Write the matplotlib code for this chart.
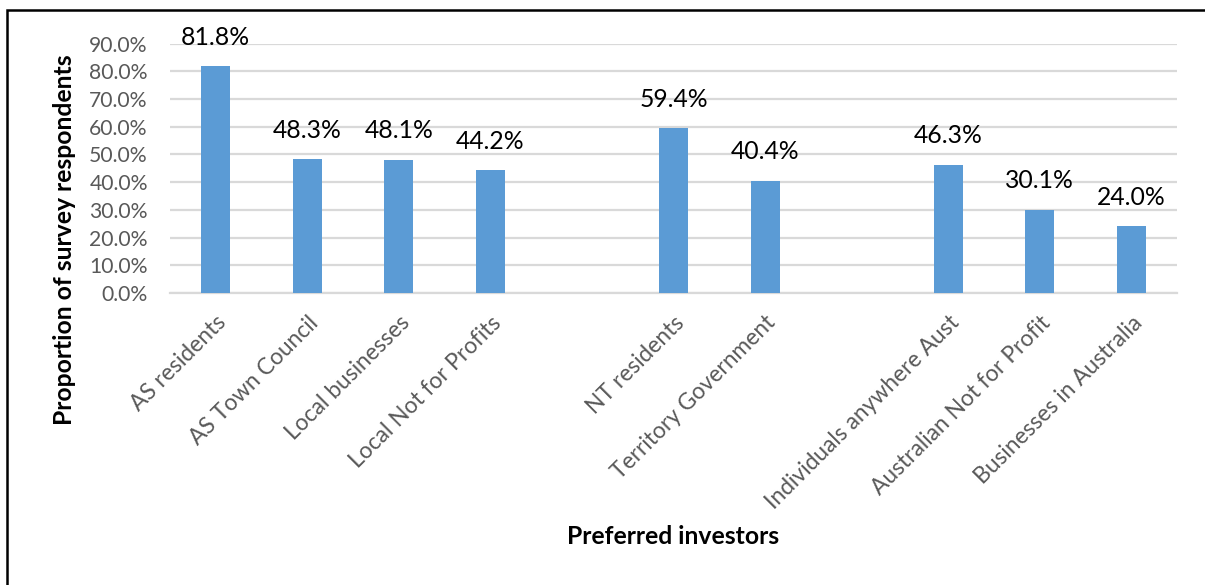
import matplotlib
matplotlib.use("Agg")
import matplotlib.pyplot as plt
from matplotlib.patches import Rectangle
from matplotlib.transforms import ScaledTranslation
import numpy as np

plt.rcParams['font.family'] = ['Lato', 'DejaVu Sans']

# Investor categories; empty strings leave a gap between groups
categories = ["AS residents", "AS Town Council", "Local businesses", "Local Not for Profits", "",
              "NT residents", "Territory Government", "",
              "Individuals anywhere Aust", "Australian Not for Profit", "Businesses in Australia"]
values = [81.8, 48.3, 48.1, 44.2, None, 59.4, 40.4, None, 46.3, 30.1, 24.0]
yticks = [0, 10, 20, 30, 40, 50, 60, 70, 80, 90]

W, H, DPI = 1205, 585, 100
fig = plt.figure(figsize=(W / DPI, H / DPI), dpi=DPI)
ax = fig.add_axes([170 / W, 1 - 293 / H, (1177 - 170) / W, (293 - 43.5) / H])

bar_color = "#5B9BD5"
grid_color = "#D9D9D9"

x = np.arange(len(categories))
for xi, v in zip(x, values):
    if v is None:
        continue
    ax.bar(xi, v, width=0.317, color=bar_color, zorder=3)
    ax.annotate(f"{v:.1f}%", (xi, v), xytext=(0, 15.5), textcoords="offset points",
                ha="center", va="baseline", fontsize=17.8, color="#000000", zorder=4)

ax.set_xlim(-0.5, len(categories) - 0.5)
ax.set_ylim(0, 90)
ax.set_yticks(yticks)
ax.set_yticklabels([f"{t:.1f}%" for t in yticks], fontsize=15.2, color="#595959")
ax.yaxis.grid(True, color=grid_color, linewidth=1.6, zorder=0)
ax.set_axisbelow(True)
ax.tick_params(axis="y", length=0, pad=16)
ax.tick_params(axis="x", length=0, pad=0)

ax.set_xticks(x)
ax.set_xticklabels(categories, rotation=45, ha="right", va="top",
                   rotation_mode="anchor", fontsize=16.4, color="#595959")
shift = ScaledTranslation(0 / DPI, -19 / DPI, fig.dpi_scale_trans)
for lbl in ax.get_xticklabels():
    lbl.set_transform(lbl.get_transform() + shift)

for side in ["top", "right", "left"]:
    ax.spines[side].set_visible(False)
ax.spines["bottom"].set_color(grid_color)
ax.spines["bottom"].set_linewidth(1.6)

fig.text(673 / W, 1 - 537 / H, "Preferred investors", ha="center", va="center",
         fontsize=17.8, fontweight="bold", color="#000000")
fig.text(65 / W, 1 - 240 / H, "Proportion of survey respondents", ha="center", va="center",
         rotation=90, fontsize=17.8, fontweight="bold", color="#000000")

# Outer chart border
fig.patches.append(Rectangle((7.5 / W, -0.05), 1.1, 1 - 10 / H + 0.05,
                             transform=fig.transFigure, fill=False,
                             edgecolor="#000000", linewidth=1.8))

fig.savefig("out.png", dpi=DPI)
